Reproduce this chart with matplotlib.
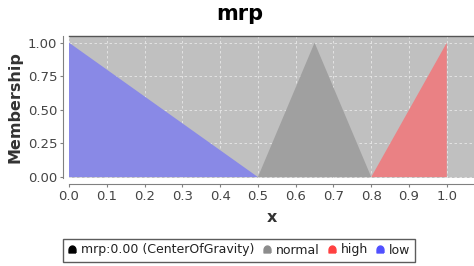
import numpy as np
import matplotlib
matplotlib.use("Agg")
import matplotlib.pyplot as plt
from matplotlib.lines import Line2D

# Data
low_x = [0.0, 0.5]
low_y = [1.0, 0.0]
normal_x = [0.5, 0.65, 0.8]
normal_y = [0.0, 1.0, 0.0]
high_x = [0.8, 1.0, 1.0]
high_y = [0.0, 1.0, 0.0]
legend_labels = ["mrp:0.00 (CenterOfGravity)", "normal", "high", "low"]
x_ticks = [0.0, 0.1, 0.2, 0.3, 0.4, 0.5, 0.6, 0.7, 0.8, 0.9, 1.0]
y_ticks = [0.0, 0.25, 0.5, 0.75, 1.0]

fill_low = "#8989E6"
fill_normal = "#A0A0A0"
fill_high = "#EA8184"
leg_colors = ["#000000", "#8C8C8C", "#FF4040", "#5050FF"]

fig = plt.figure(figsize=(4.74, 2.66), dpi=100)
ax = fig.add_axes([69/474, 1-178/266, (474-69)/474, (178-35.7)/266])
ax.set_facecolor("#C0C0C0")

ax.fill(low_x + [0.0], low_y + [0.0], color=fill_low, lw=0, zorder=2)
ax.fill(normal_x, normal_y, color=fill_normal, lw=0, zorder=2)
ax.fill(high_x, high_y, color=fill_high, lw=0, zorder=2)

ax.set_xlim(0.0, 1.072)
ax.set_ylim(-0.007, 1.052)
ax.set_xticks(x_ticks)
ax.set_xticklabels([f"{v:.1f}" for v in x_ticks])
ax.set_yticks(y_ticks)
ax.set_yticklabels([f"{v:.2f}" for v in y_ticks])
ax.grid(True, color="#E8E8E8", linestyle=(0, (3, 3)), linewidth=0.6, zorder=1)
ax.set_axisbelow(True)

ax.spines["right"].set_visible(False)
ax.spines["top"].set_color("#555555")
ax.spines["top"].set_linewidth(1.0)
ax.spines["left"].set_position(("outward", 4.5))
ax.spines["bottom"].set_position(("outward", 4.5))
ax.spines["left"].set_color("#808080")
ax.spines["bottom"].set_color("#808080")
ax.tick_params(axis="both", direction="out", length=2, width=0.8, color="#808080",
               labelsize=9.5, labelcolor="#444444", pad=2)

ax.set_xlabel("x", fontsize=11.5, fontweight="bold", color="#333333", labelpad=5)
ax.set_ylabel("Membership", fontsize=11.5, fontweight="bold", color="#333333", labelpad=4)
fig.text(0.505, 1-14/266, "mrp", ha="center", va="center", fontsize=15, fontweight="bold")

# dome marker
t = np.linspace(0, np.pi, 20)
verts = [(1.0, -1.0)] + [(np.cos(a), -0.2 + 1.2*np.sin(a)) for a in t] + [(-1.0, -1.0), (1.0, -1.0)]
handles = [Line2D([], [], marker=verts, linestyle="none", markersize=5,
                  markerfacecolor=c, markeredgecolor=c) for c in leg_colors]
leg = fig.legend(handles, legend_labels, loc="center", bbox_to_anchor=(0.505, 1-250/266),
                 ncol=4, fontsize=9, frameon=True, fancybox=False, handlelength=0.6,
                 handletextpad=0.4, columnspacing=0.7, borderpad=0.4, borderaxespad=0)
leg.get_frame().set_edgecolor("#333333")
leg.get_frame().set_linewidth(1.0)
for txt in leg.get_texts():
    txt.set_color("#222222")

fig.savefig("out.png", dpi=100)
